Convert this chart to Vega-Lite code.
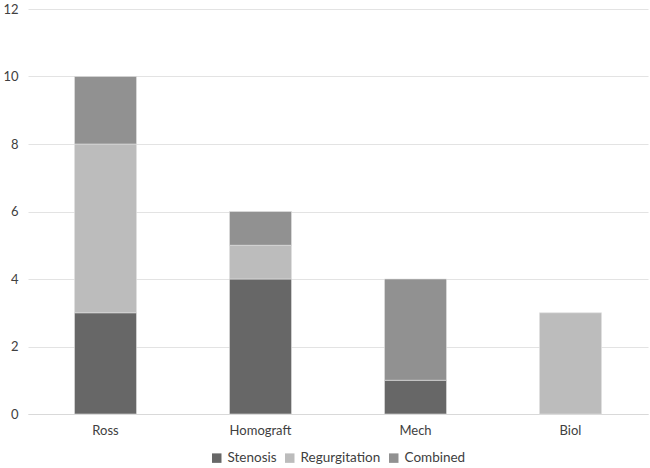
{
  "$schema": "https://vega.github.io/schema/vega-lite/v6.json",
  "width": 620,
  "height": 405,
  "autosize": {"type": "none"},
  "padding": {"left": 28, "top": 9, "right": 2, "bottom": 54},
  "background": "white",
  "config": {"view": {"stroke": null}, "legend": {"layout": {"bottom": {"anchor": "middle"}}}},
  "data": {"values": [
    {"valve": "Ross", "type": "Stenosis", "ord": 1, "n": 3},
    {"valve": "Ross", "type": "Regurgitation", "ord": 2, "n": 5},
    {"valve": "Ross", "type": "Combined", "ord": 3, "n": 2},
    {"valve": "Homograft", "type": "Stenosis", "ord": 1, "n": 4},
    {"valve": "Homograft", "type": "Regurgitation", "ord": 2, "n": 1},
    {"valve": "Homograft", "type": "Combined", "ord": 3, "n": 1},
    {"valve": "Mech", "type": "Stenosis", "ord": 1, "n": 1},
    {"valve": "Mech", "type": "Combined", "ord": 3, "n": 3},
    {"valve": "Biol", "type": "Regurgitation", "ord": 2, "n": 3}
  ]},
  "mark": {"type": "bar", "stroke": "#e0e0e0", "strokeWidth": 0.6},
  "encoding": {
    "x": {"field": "valve", "type": "nominal", "sort": ["Ross", "Homograft", "Mech", "Biol"],
      "scale": {"paddingInner": 0.6, "paddingOuter": 0.3},
      "axis": {"title": null, "labelAngle": 0, "labelFont": "Lato", "labelFontSize": 13, "labelColor": "#404040", "domainColor": "#d9d9d9", "ticks": false, "labelPadding": 10}},
    "y": {"field": "n", "type": "quantitative", "stack": "zero",
      "scale": {"domain": [0, 12]},
      "axis": {"title": null, "values": [0, 2, 4, 6, 8, 10, 12], "domain": false, "ticks": false, "labelFont": "Lato", "labelFontSize": 13, "labelColor": "#404040", "gridColor": "#e3e3e3", "labelPadding": 10}},
    "color": {"field": "type", "type": "nominal",
      "scale": {"domain": ["Stenosis", "Regurgitation", "Combined"], "range": ["#676767", "#bcbcbc", "#919191"]},
      "legend": {"title": null, "orient": "bottom", "direction": "horizontal", "symbolType": "square", "symbolSize": 90, "symbolStrokeWidth": 0, "labelFont": "Lato", "labelFontSize": 13.5, "labelColor": "#404040", "columnPadding": 6, "labelOffset": 4, "offset": 14}},
    "order": {"field": "ord", "type": "quantitative"}
  }
}
